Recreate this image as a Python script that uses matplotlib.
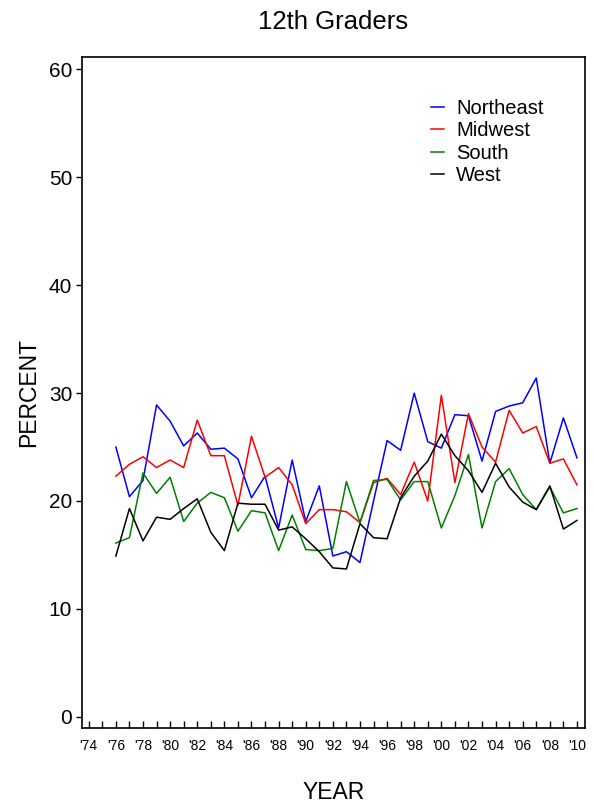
import matplotlib
matplotlib.use("Agg")
import matplotlib.pyplot as plt
from matplotlib.ticker import MultipleLocator, FixedLocator

plt.rcParams['font.family'] = ['Liberation Sans', 'DejaVu Sans']

years = list(range(1976, 2011))
northeast = [25.0, 20.4, 21.9, 28.9, 27.4, 25.1, 26.3, 24.8, 24.9, 23.9, 20.3, 22.3,
             17.5, 23.8, 18.1, 21.4, 14.9, 15.3, 14.3, 20.0, 25.6, 24.7, 30.0, 25.5,
             24.9, 28.0, 27.9, 23.7, 28.3, 28.8, 29.1, 31.4, 23.5, 27.7, 24.0]
midwest = [22.3, 23.4, 24.1, 23.1, 23.8, 23.1, 27.5, 24.2, 24.2, 19.6, 26.0, 22.2,
           23.1, 21.5, 17.9, 19.2, 19.2, 19.0, 18.0, 21.7, 22.1, 20.6, 23.6, 20.0,
           29.8, 21.7, 28.1, 25.0, 23.6, 28.4, 26.3, 26.9, 23.5, 23.9, 21.5]
south = [16.1, 16.6, 22.6, 20.7, 22.2, 18.1, 19.8, 20.8, 20.3, 17.2, 19.1, 18.9,
         15.4, 18.7, 15.5, 15.4, 15.6, 21.8, 18.0, 21.9, 22.0, 20.1, 21.8, 21.8,
         17.5, 20.5, 24.3, 17.5, 21.8, 23.0, 20.6, 19.2, 21.3, 18.9, 19.3]
west = [14.9, 19.3, 16.3, 18.5, 18.3, 19.3, 20.2, 17.1, 15.4, 19.8, 19.7, 19.7,
        17.3, 17.6, 16.5, 15.3, 13.8, 13.7, 17.9, 16.6, 16.5, 20.3, 22.3, 23.7,
        26.2, 24.2, 22.8, 20.8, 23.5, 21.3, 19.9, 19.2, 21.4, 17.4, 18.2]

series = [("Northeast", northeast, "#0000ff"),
          ("Midwest", midwest, "#ff0000"),
          ("South", south, "#008000"),
          ("West", west, "#000000")]

tick_years = list(range(1974, 2011, 2))
tick_labels = ["'" + str(y)[2:] for y in tick_years]

fig = plt.figure(figsize=(5.94, 8.09), dpi=100)
ax = fig.add_axes([0.138, 0.100, 0.847, 0.8295])

for name, vals, col in series:
    ax.plot(years, vals, color=col, lw=1.1, label=name)

ax.set_xlim(1973.5, 2010.6)
ax.set_ylim(-1.05, 61.15)
ax.set_yticks(range(0, 61, 10))
ax.xaxis.set_major_locator(FixedLocator(tick_years))
ax.set_xticklabels(tick_labels, fontsize=10)
ax.xaxis.set_minor_locator(MultipleLocator(1))
ax.tick_params(axis='x', which='both', direction='in', length=5, width=1, pad=8)
ax.tick_params(axis='y', direction='out', length=4, width=1, labelsize=15, pad=3)

for s in ax.spines.values():
    s.set_linewidth(1.2)

ax.set_title("12th Graders", fontsize=18.5, pad=20)
ax.set_ylabel("PERCENT", fontsize=16.5, labelpad=6)
ax.set_xlabel("YEAR", fontsize=16.5, labelpad=20)

leg = ax.legend(loc='upper left', bbox_to_anchor=(0.694, 0.9375), frameon=False,
                fontsize=14.5, handlelength=0.65, handletextpad=0.6,
                labelspacing=0.17, borderaxespad=0, borderpad=0)

fig.savefig("out.png", dpi=100)
